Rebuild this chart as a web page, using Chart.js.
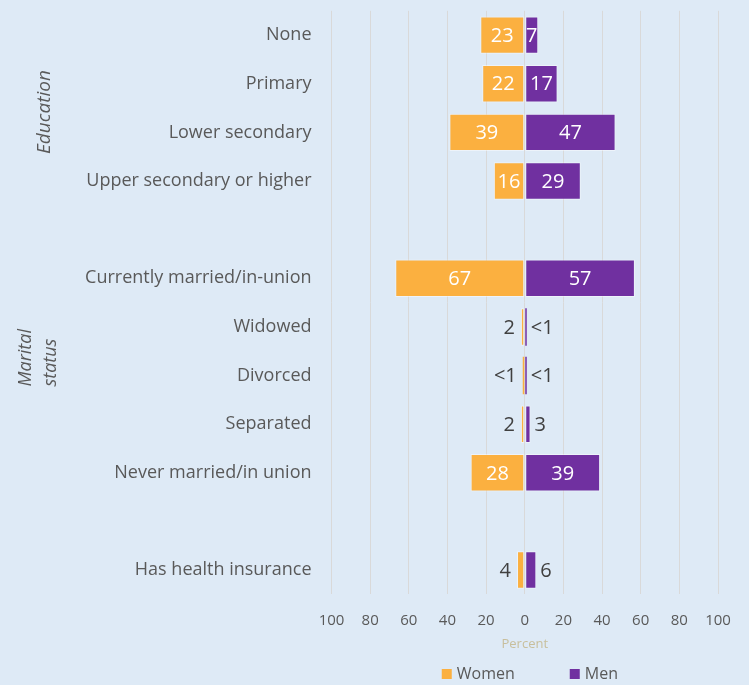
<!DOCTYPE html>
<html>
<head>
<meta charset="utf-8">
<script src="https://cdn.jsdelivr.net/npm/chart.js"></script>
<style>
  html, body { margin: 0; padding: 0; background: #deeaf6; }
  #wrap { width: 749px; height: 685px; }
</style>
</head>
<body>
<div id="wrap"><canvas id="chart" width="749" height="685"></canvas></div>
<script>
// rows, top to bottom ('' rows are spacers between groups)
const categories = ['None', 'Primary', 'Lower secondary', 'Upper secondary or higher', '',
  'Currently married/in-union', 'Widowed', 'Divorced', 'Separated', 'Never married/in union', '',
  'Has health insurance'];
const women = [23, 22, 39, 16, null, 67, 2, 0.5, 2, 28, null, 4];
const men = [7, 17, 47, 29, null, 57, 0.5, 0.5, 3, 39, null, 6];
const womenLabels = ['23', '22', '39', '16', '', '67', '2', '<1', '2', '28', '', '4'];
const menLabels = ['7', '17', '47', '29', '', '57', '<1', '<1', '3', '39', '', '6'];
const seriesNames = ['Women', 'Men'];
const axisMin = -100, axisMax = 100, tickStep = 20;
const groupEducation = ['Education'];
const groupMarital = ['Marital', 'status'];

const ORANGE = '#fbb040';
const PURPLE = '#7030a0';
const GRAY = '#595959';
const FONT = "'Open Sans', sans-serif";

// thin bars lose their light outline so the fill still shows
const edgeWidth = c => (Math.abs(c.raw) < 1 ? 0 : 1);

// value labels: white inside bigger bars, dark beside the small ones
const barLabels = {
  id: 'barLabels',
  afterDatasetsDraw(chart) {
    const ctx = chart.ctx;
    ctx.save();
    ctx.font = '20px ' + FONT;
    ctx.textBaseline = 'middle';
    chart.data.datasets.forEach((ds, di) => {
      const meta = chart.getDatasetMeta(di);
      const texts = di === 0 ? womenLabels : menLabels;
      meta.data.forEach((el, i) => {
        const v = ds.data[i];
        if (v == null) return;
        if (Math.abs(v) >= 7) {
          ctx.fillStyle = '#ffffff';
          ctx.textAlign = 'center';
          ctx.fillText(texts[i], (el.x + el.base) / 2, el.y + 1);
        } else {
          ctx.fillStyle = '#404040';
          if (di === 0) {
            ctx.textAlign = 'right';
            ctx.fillText(texts[i], el.x - 6, el.y + 1);
          } else {
            ctx.textAlign = 'left';
            ctx.fillText(texts[i], el.x + 4, el.y + 1);
          }
        }
      });
    });
    ctx.restore();
  }
};

// rotated group titles on the far left and the legend under the axis title
const extras = {
  id: 'extras',
  afterDraw(chart) {
    const ctx = chart.ctx;
    const y = chart.scales.y;
    const area = chart.chartArea;
    ctx.save();
    ctx.fillStyle = GRAY;
    ctx.textBaseline = 'alphabetic';

    ctx.font = 'italic 19px ' + FONT;
    ctx.save();
    ctx.translate(50, (y.getPixelForValue(0) + y.getPixelForValue(3)) / 2 + 4);
    ctx.rotate(-Math.PI / 2);
    ctx.textAlign = 'center';
    ctx.fillText(groupEducation[0], 0, 0);
    ctx.restore();

    ctx.font = 'italic 18px ' + FONT;
    const startY = y.getPixelForValue(7) + 11;
    groupMarital.forEach((line, k) => {
      ctx.save();
      ctx.translate(31 + k * 25, startY);
      ctx.rotate(-Math.PI / 2);
      ctx.textAlign = 'left';
      ctx.fillText(line, 0, 0);
      ctx.restore();
    });

    // legend
    const cx = (area.left + area.right) / 2;
    const ly = chart.height - 11;
    ctx.font = '16px ' + FONT;
    ctx.textBaseline = 'middle';
    ctx.textAlign = 'left';
    const items = [[seriesNames[0], ORANGE, cx - 83], [seriesNames[1], PURPLE, cx + 45]];
    items.forEach(([name, color, x]) => {
      ctx.fillStyle = color;
      ctx.fillRect(x, ly - 5, 10, 10);
      ctx.fillStyle = GRAY;
      ctx.fillText(name, x + 15, ly);
    });
    ctx.restore();
  }
};

new Chart(document.getElementById('chart'), {
  type: 'bar',
  data: {
    labels: categories,
    datasets: [
      {
        label: seriesNames[0],
        data: women.map(v => v == null ? null : -v),
        backgroundColor: ORANGE,
        borderColor: 'rgba(255,255,255,0.45)',
        borderWidth: edgeWidth,
        borderSkipped: false,
        minBarLength: 2,
        barPercentage: 0.77,
        categoryPercentage: 1
      },
      {
        label: seriesNames[1],
        data: men,
        backgroundColor: PURPLE,
        borderColor: 'rgba(255,255,255,0.45)',
        borderWidth: edgeWidth,
        borderSkipped: false,
        minBarLength: 2,
        barPercentage: 0.77,
        categoryPercentage: 1
      }
    ]
  },
  options: {
    indexAxis: 'y',
    responsive: false,
    animation: false,
    devicePixelRatio: 1,
    layout: { padding: { top: 9, right: 31, bottom: 33, left: 0 } },
    plugins: {
      legend: { display: false },
      tooltip: { enabled: false }
    },
    scales: {
      x: {
        stacked: true,
        min: axisMin,
        max: axisMax,
        ticks: {
          stepSize: tickStep,
          padding: 0,
          color: GRAY,
          font: { family: FONT, size: 15 },
          callback: v => Math.abs(v)
        },
        // tick marks kept invisible; their length sets the label gap
        grid: { color: '#d9d9d9', drawTicks: true, tickLength: 17, tickColor: 'rgba(0,0,0,0)' },
        border: { display: false },
        title: {
          display: true,
          text: 'Percent',
          color: '#c8bf9c',
          font: { family: FONT, size: 13 },
          padding: { top: 7, bottom: 0 }
        }
      },
      y: {
        stacked: true,
        ticks: {
          padding: 0,
          color: GRAY,
          font: { family: FONT, size: 18 },
          autoSkip: false
        },
        grid: { display: true, drawOnChartArea: false, drawTicks: true, tickLength: 20, tickColor: 'rgba(0,0,0,0)' },
        border: { display: false },
        afterFit(scale) { scale.width = 331.5; }
      }
    }
  },
  plugins: [barLabels, extras]
});
</script>
</body>
</html>
